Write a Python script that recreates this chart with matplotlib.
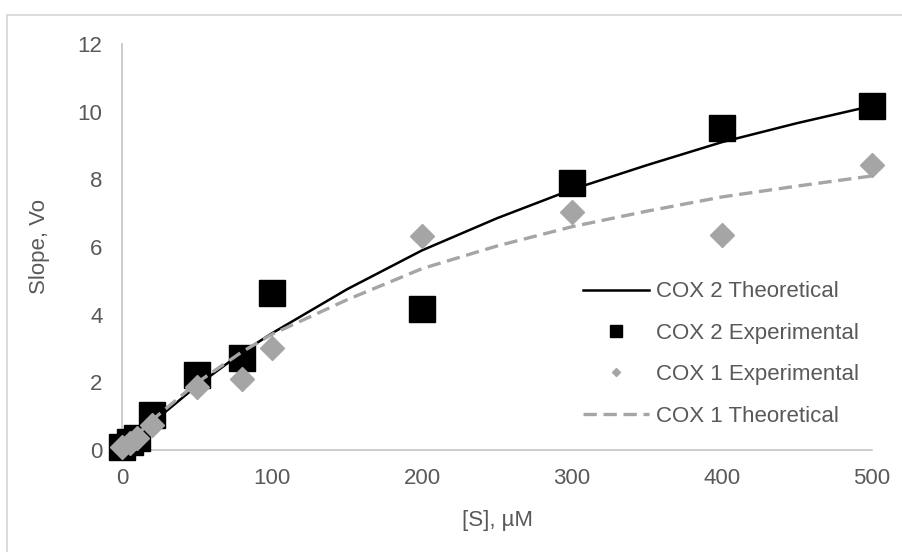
import matplotlib
matplotlib.use("Agg")
import matplotlib.pyplot as plt
from matplotlib.lines import Line2D
from matplotlib.patches import Rectangle

plt.rcParams['font.family'] = ['Liberation Sans', 'DejaVu Sans']

# experimental points
s_exp = [0, 5, 10, 20, 50, 80, 100, 200, 300, 400, 500]
cox2_exp = [0.1, 0.25, 0.35, 1.03, 2.22, 2.72, 4.64, 4.17, 7.89, 9.52, 10.17]
cox1_exp = [0.1, 0.2, 0.35, 0.74, 1.86, 2.1, 3.02, 6.33, 7.04, 6.36, 8.42]

# theoretical curves
s_theo = [0, 5, 10, 20, 50, 80, 100, 150, 200, 250, 300, 350, 400, 450, 500]
cox2_theo = [0, 0.2, 0.41, 0.8, 1.9, 2.88, 3.45, 4.75, 5.9, 6.85, 7.7, 8.42, 9.1, 9.66, 10.17]
cox1_theo = [0, 0.22, 0.44, 0.88, 1.99, 2.9, 3.42, 4.44, 5.36, 6.03, 6.6, 7.06, 7.48, 7.8, 8.1]

x_ticks = [0, 100, 200, 300, 400, 500]
y_ticks = [0, 2, 4, 6, 8, 10, 12]

GRAY = '#A5A5A5'
TXT = '#595959'
AXC = '#BFBFBF'
FS = 16

fig = plt.figure(figsize=(9.02, 5.52), dpi=100)
ax = fig.add_axes([122/902, 1 - 450/552, 750/902, 406/552])

# light frame around the chart (cropped on right/bottom)
fig.patches.append(Rectangle((7/902, -0.1), 1.2, (552 - 15)/552 + 0.1,
                             transform=fig.transFigure, fill=False,
                             edgecolor='#D9D9D9', lw=1.3, clip_on=False))

ax.plot(s_theo, cox2_theo, color='black', lw=1.8, zorder=2, clip_on=False)
ax.plot(s_exp, cox2_exp, ls='none', marker='s', ms=18.5, color='black',
        zorder=3, clip_on=False)
ax.plot(s_exp, cox1_exp, ls='none', marker='D', ms=12, color=GRAY,
        zorder=4, clip_on=False)
ax.plot(s_theo, cox1_theo, color=GRAY, lw=2.4, dashes=(4, 2), zorder=5,
        clip_on=False)

ax.set_xlim(0, 500)
ax.set_ylim(0, 12)
ax.set_xticks(x_ticks)
ax.set_yticks(y_ticks)
ax.tick_params(length=0, labelsize=FS, labelcolor=TXT)
ax.tick_params(axis='y', pad=14)
ax.tick_params(axis='x', pad=13)
for side in ['top', 'right']:
    ax.spines[side].set_visible(False)
for side in ['left', 'bottom']:
    ax.spines[side].set_color(AXC)
    ax.spines[side].set_linewidth(1.1)

ax.set_xlabel('[S], µM', fontsize=FS, color=TXT, labelpad=15)
ax.set_ylabel('Slope, Vo', fontsize=FS, color=TXT, labelpad=20)

handles = [
    Line2D([], [], color='black', lw=1.8),
    Line2D([], [], ls='none', marker='s', ms=8, color='black'),
    Line2D([], [], ls='none', marker='D', ms=4, color=GRAY),
    Line2D([], [], color=GRAY, lw=2.4, dashes=(4, 2)),
]
labels = ['COX 2 Theoretical', 'COX 2 Experimental',
          'COX 1 Experimental', 'COX 1 Theoretical']
leg = ax.legend(handles, labels, loc='center left',
                bbox_to_anchor=(583/902, 1 - 354/552),
                bbox_transform=fig.transFigure, frameon=False,
                fontsize=FS, handlelength=2.95, handletextpad=0.33,
                labelspacing=0.92, borderpad=0, borderaxespad=0)
for t in leg.get_texts():
    t.set_color(TXT)

fig.savefig('out.png', dpi=100)
